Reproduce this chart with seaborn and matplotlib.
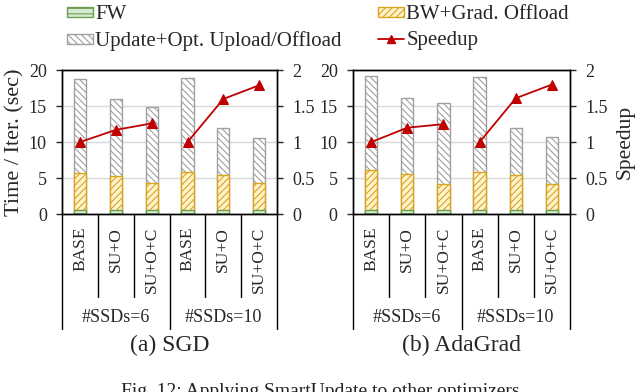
import numpy as np
import pandas as pd
import seaborn as sns
import matplotlib.pyplot as plt
from matplotlib.patches import Patch
from matplotlib.lines import Line2D

sns.set_theme(style="white")
plt.rcParams['font.family'] = ['Liberation Serif', 'DejaVu Serif']
plt.rcParams['hatch.linewidth'] = 0.8

configs = ["BASE", "SU+O", "SU+O+C", "BASE", "SU+O", "SU+O+C"]
groups = ["#SSDs=6", "#SSDs=10"]

# SGD
sgd_fw = [0.5, 0.55, 0.55, 0.55, 0.55, 0.55]
sgd_bw = [5.2, 4.7, 3.7, 5.25, 4.9, 3.7]
sgd_total = [18.75, 16.05, 14.9, 18.95, 11.9, 10.6]
sgd_speedup = [1.0, 1.17, 1.26, 1.0, 1.6, 1.79]

# AdaGrad
ada_fw = [0.5, 0.55, 0.5, 0.5, 0.5, 0.5]
ada_bw = [5.6, 4.95, 3.7, 5.35, 4.95, 3.7]
ada_total = [19.2, 16.1, 15.4, 19.0, 11.95, 10.7]
ada_speedup = [1.0, 1.2, 1.25, 1.0, 1.61, 1.8]

c_fw_face, c_fw_edge = "#d9ead3", "#6a9f4f"
c_bw_face, c_bw_edge = "#fff2cc", "#d9a520"
c_up_face, c_up_edge = "#ffffff", "#a0a0a0"
c_line = "#c00000"

fig = plt.figure(figsize=(6.4, 3.92), dpi=100)
ax1 = fig.add_axes([0.097, 0.454, 0.336, 0.367])
ax2 = fig.add_axes([0.5516, 0.454, 0.339, 0.367])


def panel(ax, fw, bw, total, speedup, title, left, right):
    df = pd.DataFrame({
        "pos": [str(i) for i in range(6)],
        "fw": fw,
        "fwbw": np.array(fw) + np.array(bw),
        "total": total,
    })
    for col, face, edge, hatch in [("total", c_up_face, c_up_edge, "\\\\\\\\\\"),
                                   ("fwbw", c_bw_face, c_bw_edge, "/////"),
                                   ("fw", c_fw_face, c_fw_edge, "---")]:
        sns.barplot(data=df, x="pos", y=col, ax=ax, color=face, width=0.34,
                    edgecolor=edge, linewidth=1.0, hatch=hatch, saturation=1, zorder=2)
    ax.set_xlim(-0.5, 5.5)
    ax.set_ylim(0, 20)
    ax.set_yticks([0, 5, 10, 15, 20])
    ax.yaxis.grid(True, color="#d9d9d9", linewidth=1.0, zorder=0)
    ax.set_axisbelow(True)
    ax.set_xticks([])
    ax.set_xlabel("")
    ax.set_ylabel("")
    for s in ax.spines.values():
        s.set_color("black")
        s.set_linewidth(1.0)
    ax.tick_params(axis="y", labelsize=13, length=4, width=1, direction="out", left=True, pad=7)
    if left:
        ax.set_ylabel("Time / Iter. (sec)", fontsize=16, labelpad=3)

    tw = ax.twinx()
    sp = pd.DataFrame({"pos": range(6), "speedup": speedup, "grp": [0, 0, 0, 1, 1, 1]})
    sns.lineplot(data=sp, x="pos", y="speedup", units="grp", estimator=None, ax=tw,
                 color=c_line, marker="^", markersize=7, markeredgecolor=c_line,
                 linewidth=1.3, zorder=5)
    tw.set_ylim(0, 2)
    tw.set_yticks([0, 0.5, 1, 1.5, 2])
    tw.set_yticklabels(["0", "0.5", "1", "1.5", "2"])
    tw.set_xlim(-0.5, 5.5)
    tw.set_xlabel("")
    tw.set_ylabel("")
    tw.tick_params(axis="y", labelsize=13, length=4, width=1, direction="out", right=True, pad=7)
    for s in tw.spines.values():
        s.set_color("black")
        s.set_linewidth(1.0)
    if right:
        tw.set_ylabel("Speedup", fontsize=15.5, labelpad=6)

    # category axis below
    trans = ax.get_xaxis_transform()
    for i, x in enumerate(np.arange(-0.5, 6.0, 1.0)):
        depth = -0.797 if i in (0, 3, 6) else -0.58
        ax.plot([x, x], [0, depth], transform=trans, color="black", lw=1.0, clip_on=False)
    for i, lab in enumerate(configs):
        ax.text(i, -0.09, lab, transform=trans, rotation=90, ha="center", va="top", fontsize=12.5)
    for g, lab in enumerate(groups):
        ax.text(g * 3 + 1, -0.72, lab, transform=trans, ha="center", va="center", fontsize=13)
    ax.text(2.5, -0.916, title, transform=trans, ha="center", va="center", fontsize=17)


panel(ax1, sgd_fw, sgd_bw, sgd_total, sgd_speedup, "(a) SGD", True, False)
panel(ax2, ada_fw, ada_bw, ada_total, ada_speedup, "(b) AdaGrad", False, True)

leg_kw = dict(loc="upper left", frameon=False, fontsize=15, handlelength=1.25,
              handleheight=0.38, handletextpad=0.1, labelspacing=0.35,
              borderpad=0, borderaxespad=0)
h_fw = Patch(facecolor=c_fw_face, edgecolor=c_fw_edge, hatch="---", label="FW")
h_up = Patch(facecolor=c_up_face, edgecolor=c_up_edge, hatch="\\\\\\\\\\",
             label="Update+Opt. Upload/Offload")
h_bw = Patch(facecolor=c_bw_face, edgecolor=c_bw_edge, hatch="/////", label="BW+Grad. Offload")
h_sp = Line2D([0], [0], color=c_line, marker="^", markersize=6, lw=1.3, label="Speedup")
fig.legend(handles=[h_fw, h_up], bbox_to_anchor=(67 / 640, 0.987), **leg_kw)
fig.legend(handles=[h_bw, h_sp], bbox_to_anchor=(378 / 640, 0.987), **leg_kw)

fig.text(0.5, 0.022, "Fig. 12: Applying SmartUpdate to other optimizers",
         ha="center", va="top", fontsize=14, color="#222222")

fig.savefig("out.png", dpi=100)
